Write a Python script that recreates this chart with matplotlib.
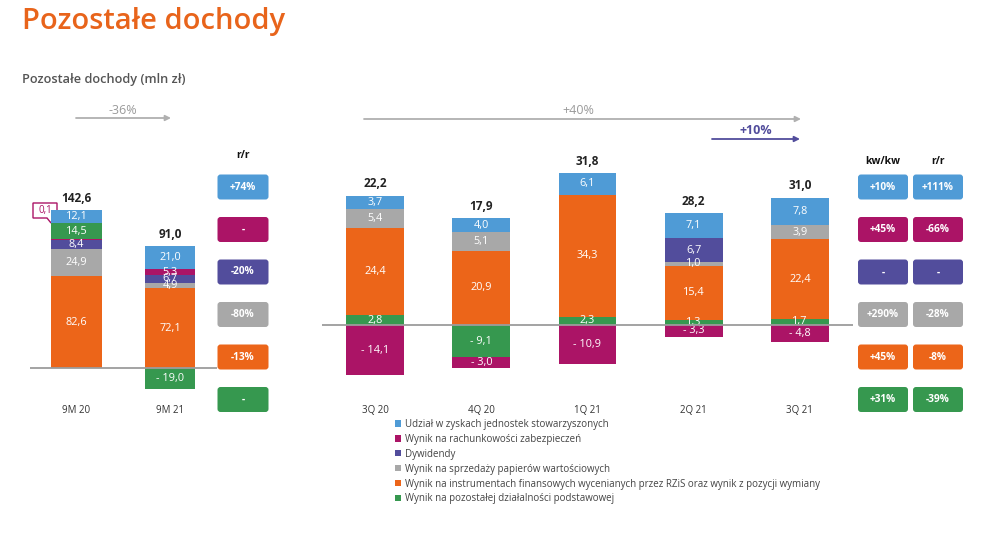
import numpy as np
import matplotlib
matplotlib.use('Agg')
import matplotlib.pyplot as plt
from matplotlib.patches import FancyBboxPatch, Polygon, Patch

plt.rcParams['font.family'] = ['Open Sans', 'DejaVu Sans']

# data (mln zl)
left_cats = ['9M 20', '9M 21']
left_udzial = [12.1, 21.0]
left_zabezp = [0.1, 5.3]
left_dyw = [8.4, 6.7]
left_papiery = [24.9, 4.9]
left_instr = [82.6, 72.1]
left_pozost = [14.5, -19.0]

q_cats = ['3Q 20', '4Q 20', '1Q 21', '2Q 21', '3Q 21']
q_udzial = [3.7, 4.0, 6.1, 7.1, 7.8]
q_zabezp = [-14.1, -3.0, -10.9, -3.3, -4.8]
q_dyw = [0, 0, 0, 6.7, 0]
q_papiery = [5.4, 5.1, 0, 1.0, 3.9]
q_instr = [24.4, 20.9, 34.3, 15.4, 22.4]
q_pozost = [2.8, -9.1, 2.3, 1.3, 1.7]

left_rr = ['+74%', '-', '-20%', '-80%', '-13%', '-']
q_kwkw = ['+10%', '+45%', '-', '+290%', '+45%', '+31%']
q_rr = ['+111%', '-66%', '-', '-28%', '-8%', '-39%']

series_names = ['Udział w zyskach jednostek stowarzyszonych',
                'Wynik na rachunkowości zabezpieczeń',
                'Dywidendy',
                'Wynik na sprzedaży papierów wartościowych',
                'Wynik na instrumentach finansowych wycenianych przez RZiS oraz wynik z pozycji wymiany',
                'Wynik na pozostałej działalności podstawowej']

c_blue = '#4f9bd6'
c_mag = '#ab1466'
c_purp = '#524d9c'
c_gray = '#a8a8a8'
c_orange = '#ec6519'
c_green = '#36984f'
colors = [c_blue, c_mag, c_purp, c_gray, c_orange, c_green]

W, H = 1004, 536
fig = plt.figure(figsize=(W/100, H/100), dpi=100)


def rect(x0, x1, base, scale, ylo, yhi):
    top = base - yhi*scale
    bot = base - ylo*scale
    return [x0/W, 1 - bot/H, (x1 - x0)/W, (bot - top)/H]


def fmt(v):
    s = ('%.1f' % abs(v)).replace('.', ',')
    return s if v > 0 else '- ' + s


def stack(ax, cats, series, cols, width):
    x = np.arange(len(cats))
    pos_base = np.zeros(len(cats))
    neg_base = np.zeros(len(cats))
    for vals, col in zip(series, cols):
        vals = np.array(vals, dtype=float)
        pos = np.where(vals > 0, vals, 0)
        neg = np.where(vals < 0, vals, 0)
        ax.bar(x, pos, width, bottom=pos_base, color=col, linewidth=0)
        ax.bar(x, neg, width, bottom=neg_base, color=col, linewidth=0)
        for i, v in enumerate(vals):
            if abs(v) < 0.5:
                continue
            yc = pos_base[i] + v/2 if v > 0 else neg_base[i] + v/2
            ax.text(x[i], yc, fmt(v), color='white', fontsize=7.8,
                    ha='center', va='center')
        pos_base += pos
        neg_base += neg
    totals = np.sum(np.array(series, dtype=float), axis=0)
    for i, t in enumerate(totals):
        ax.annotate(('%.1f' % t).replace('.', ','), (x[i], pos_base[i]),
                    xytext=(0, 8.5), textcoords='offset points',
                    ha='center', va='center', fontsize=8.5,
                    fontweight='bold', color='#222222')
    ax.axhline(0, color='#9c9c9c', lw=1.3, zorder=3)
    ax.set_xlim(-0.5, len(cats) - 0.5)
    ax.set_xticks(x)
    ax.set_xticklabels(cats, fontsize=7, color='#333333')
    ax.tick_params(axis='x', length=0, pad=1)
    ax.set_yticks([])
    for s in ax.spines.values():
        s.set_visible(False)
    ax.patch.set_alpha(0)


# left panel: 9M
axl = fig.add_axes(rect(29.75, 216.75, 368, 1.108, -31.9, 160))
axl.set_ylim(-31.9, 160)
stack(axl, left_cats,
      [left_instr, left_papiery, left_dyw, left_zabezp, left_pozost, left_udzial],
      [c_orange, c_gray, c_purp, c_mag, c_green, c_blue], 0.545)

# right panel: quarters
axr = fig.add_axes(rect(322, 853, 325, 3.56, -22.0, 48))
axr.set_ylim(-22.0, 48)
stack(axr, q_cats,
      [q_pozost, q_instr, q_papiery, q_dyw, q_zabezp, q_udzial],
      [c_green, c_orange, c_gray, c_purp, c_mag, c_blue], 0.546)

# overlay in pixel coordinates for annotations
ov = fig.add_axes([0, 0, 1, 1], zorder=-1)
ov.set_xlim(0, W)
ov.set_ylim(H, 0)
ov.axis('off')

ov.text(22, 21, 'Pozostałe dochody', fontsize=21, fontweight='semibold',
        color='#e8641b', va='center', ha='left')
ov.text(22, 80, 'Pozostałe dochody (mln zł)', fontsize=9.2,
        fontweight='semibold', color='#555555', va='center', ha='left')

# growth arrows
arrow_gray = dict(arrowstyle='-|>', color='#b0b0b0', lw=1.3, mutation_scale=8,
                  shrinkA=0, shrinkB=0)
ov.annotate('', xy=(171, 118), xytext=(76, 118), arrowprops=arrow_gray)
ov.text(123, 110, '-36%', fontsize=9, color='#9a9a9a', ha='center', va='center')
ov.annotate('', xy=(801, 119), xytext=(364, 119), arrowprops=arrow_gray)
ov.text(578, 110, '+40%', fontsize=9, color='#9a9a9a', ha='center', va='center')
ov.annotate('', xy=(800, 139), xytext=(712, 139),
            arrowprops=dict(arrowstyle='-|>', color=c_purp, lw=1.3,
                            mutation_scale=8, shrinkA=0, shrinkB=0))
ov.text(756, 130, '+10%', fontsize=9, fontweight='bold', color=c_purp,
        ha='center', va='center')

# callout 0,1
ov.add_patch(Polygon([(33, 203), (57, 203), (57, 218), (53, 218), (51, 223),
                      (47, 218), (33, 218)], closed=True, facecolor='white',
                     edgecolor=c_mag, lw=1))
ov.text(45, 210.5, '0,1', fontsize=7, color=c_mag, ha='center', va='center')


def badges(xc, labels, w=51, h=25):
    for k, (lab, col) in enumerate(zip(labels, colors)):
        yc = 187 + 42.5*k
        ov.add_patch(FancyBboxPatch((xc - w/2 + 2, yc - h/2 + 2), w - 4, h - 4,
                                    boxstyle='round,pad=2,rounding_size=3',
                                    facecolor=col, edgecolor='none'))
        ov.text(xc, yc, lab, fontsize=7.3, fontweight='bold', color='white',
                ha='center', va='center')


badges(243, left_rr)
badges(883, q_kwkw, w=50)
badges(938, q_rr, w=50)
ov.text(243, 155, 'r/r', fontsize=7.5, fontweight='bold', color='#111111',
        ha='center', va='center')
ov.text(883, 162, 'kw/kw', fontsize=7.5, fontweight='bold', color='#111111',
        ha='center', va='center')
ov.text(938, 162, 'r/r', fontsize=7.5, fontweight='bold', color='#111111',
        ha='center', va='center')

handles = [Patch(facecolor=c, edgecolor='none') for c in colors]
fig.legend(handles, series_names, loc='upper left',
           bbox_to_anchor=(395/W, 1 - 419/H), frameon=False, fontsize=7,
           handlelength=0.6, handleheight=0.6, handletextpad=0.4,
           labelspacing=0.4, labelcolor='#444444', borderpad=0,
           borderaxespad=0)

fig.savefig('out.png', dpi=100)
